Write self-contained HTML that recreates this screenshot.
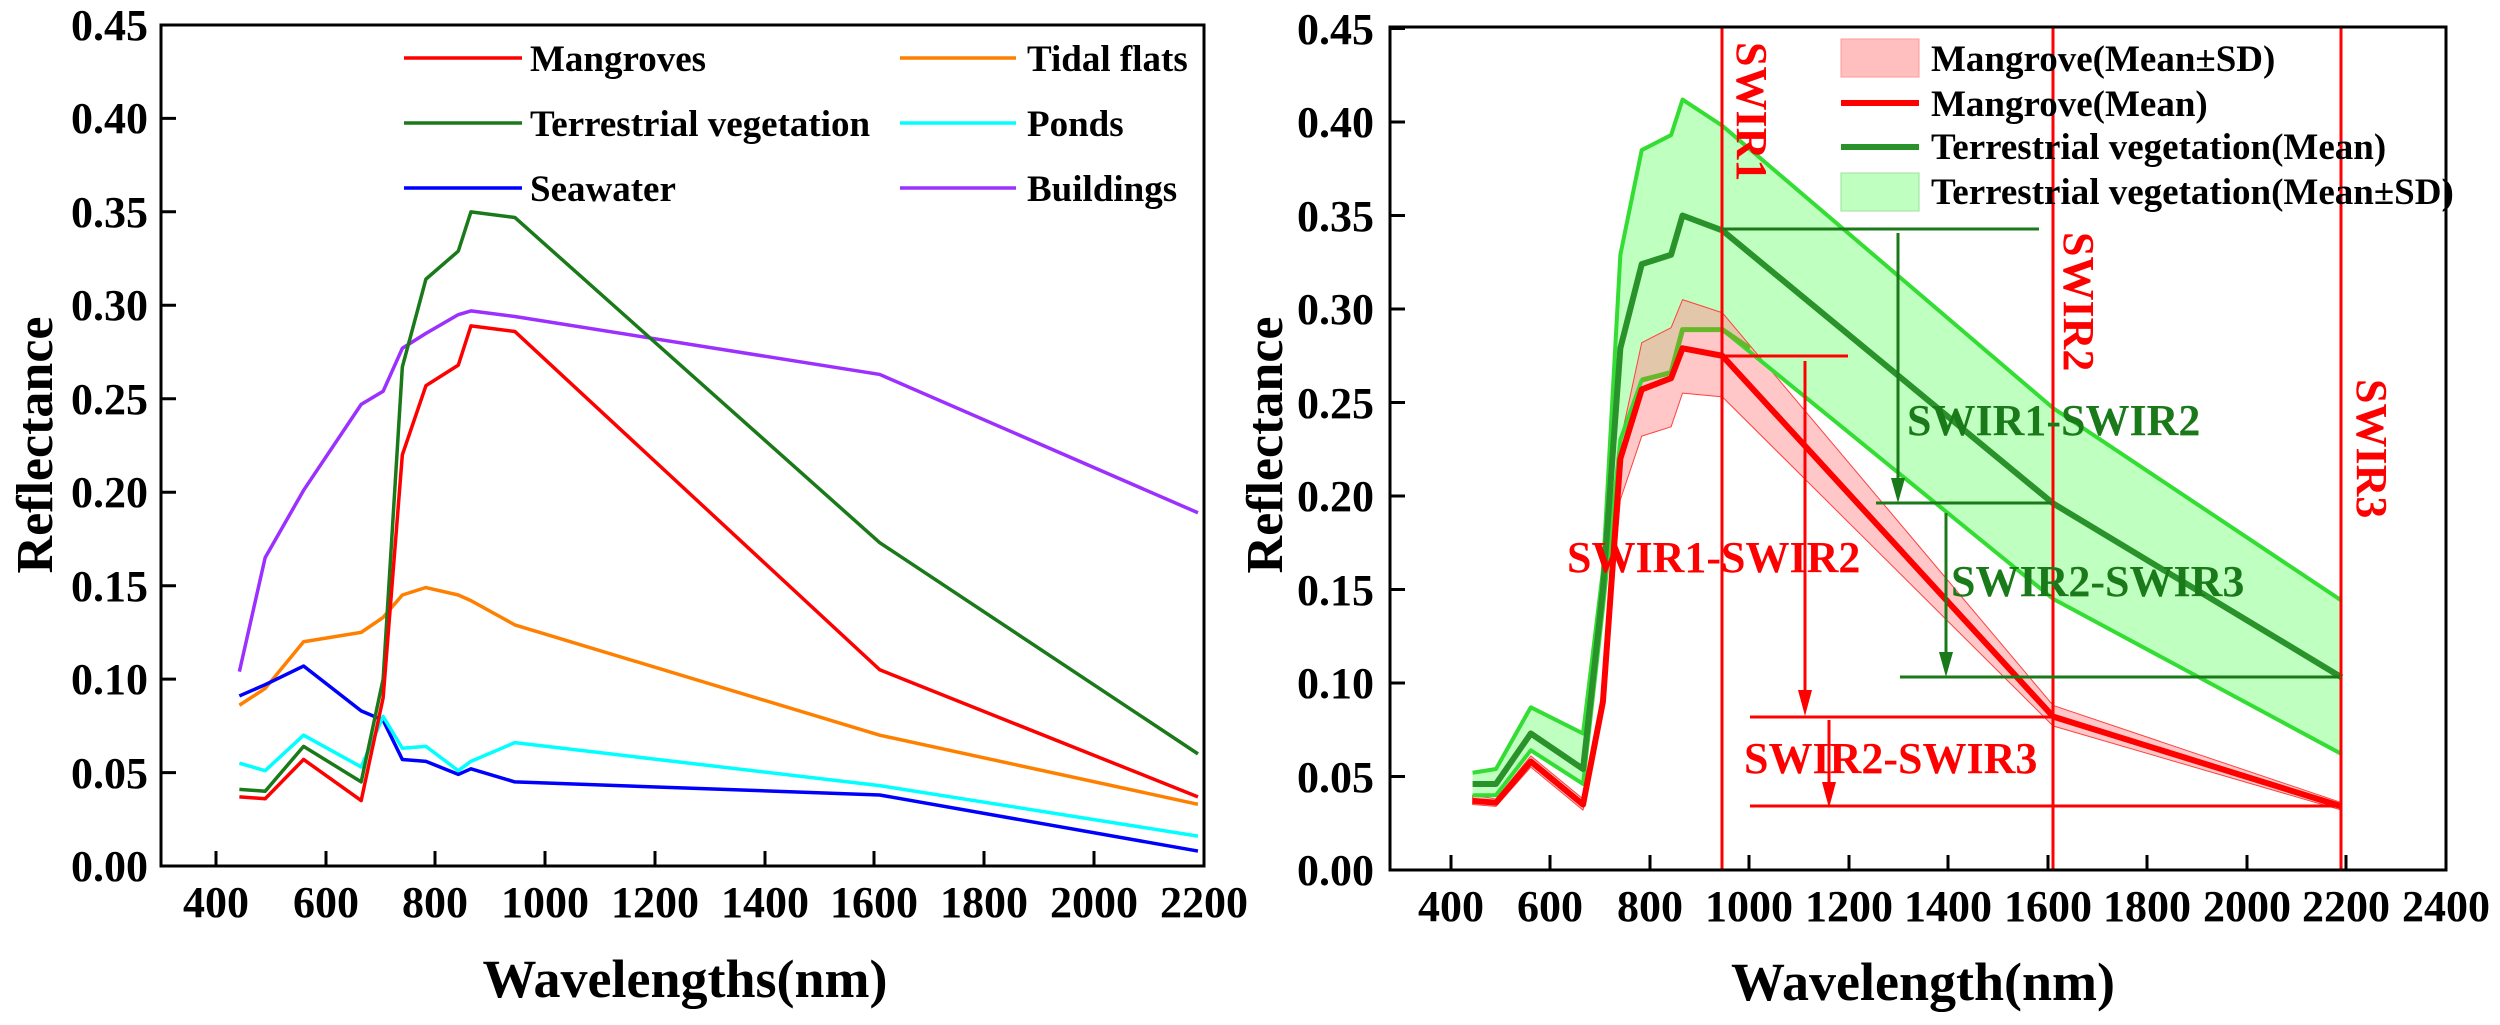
<!DOCTYPE html>
<html><head><meta charset="utf-8"><style>
html,body{margin:0;padding:0;background:#fff;}
svg{display:block;}
svg text{font-family:"Liberation Serif","DejaVu Serif",serif;font-weight:bold;}
</style></head><body>
<svg width="2500" height="1025" viewBox="0 0 2500 1025" xmlns="http://www.w3.org/2000/svg" font-family="'Liberation Serif','DejaVu Serif',serif" font-weight="bold">
<!-- LEFT PANEL -->
<g fill="none" stroke-linejoin="round">
<g transform="translate(-3.7,866) scale(0.5487,-1869)">
<polyline vector-effect="non-scaling-stroke" stroke="#9b30ff" stroke-width="3.5" points="443,0.104 490,0.165 560,0.201 665,0.247 705,0.254 740,0.277 783,0.285 842,0.295 865,0.297 945,0.294 1610,0.263 2190,0.189"/>
<polyline vector-effect="non-scaling-stroke" stroke="#ff8000" stroke-width="3.5" points="443,0.086 490,0.095 560,0.120 665,0.125 705,0.133 740,0.145 783,0.149 842,0.145 865,0.142 945,0.129 1610,0.070 2190,0.033"/>
<polyline vector-effect="non-scaling-stroke" stroke="#0000ff" stroke-width="3.5" points="443,0.091 490,0.097 560,0.107 665,0.083 705,0.078 740,0.057 783,0.056 842,0.049 865,0.052 945,0.045 1610,0.038 2190,0.008"/>
<polyline vector-effect="non-scaling-stroke" stroke="#00ffff" stroke-width="3.5" points="443,0.055 490,0.051 560,0.070 665,0.053 705,0.080 740,0.063 783,0.064 842,0.051 865,0.056 945,0.066 1610,0.043 2190,0.016"/>
<polyline vector-effect="non-scaling-stroke" stroke="#1a7a1a" stroke-width="3.5" points="443,0.041 490,0.040 560,0.064 665,0.045 705,0.100 740,0.267 783,0.314 842,0.329 865,0.350 945,0.347 1610,0.173 2190,0.060"/>
<polyline vector-effect="non-scaling-stroke" stroke="#ff0000" stroke-width="3.5" points="443,0.037 490,0.036 560,0.057 665,0.035 705,0.090 740,0.220 783,0.257 842,0.268 865,0.289 945,0.286 1610,0.105 2190,0.037"/>
</g>
</g>
<g stroke="#000" stroke-width="3" fill="none">
<rect x="161" y="25" width="1043" height="841"/>
<path d="M216,866v-15M326,866v-15M435,866v-15M545,866v-15M655,866v-15M765,866v-15M874,866v-15M984,866v-15M1094,866v-15M1204,866v-15"/>
<path d="M161,866h15M161,772.6h15M161,679.1h15M161,585.7h15M161,492.2h15M161,398.8h15M161,305.3h15M161,211.8h15M161,118.4h15M161,25h15"/>
</g>
<g font-size="44" text-anchor="end">
<text x="148" y="881">0.00</text><text x="148" y="788">0.05</text><text x="148" y="694">0.10</text><text x="148" y="601">0.15</text><text x="148" y="507">0.20</text><text x="148" y="414">0.25</text><text x="148" y="320">0.30</text><text x="148" y="227">0.35</text><text x="148" y="133">0.40</text><text x="148" y="40">0.45</text>
</g>
<g font-size="44" text-anchor="middle">
<text x="216" y="917">400</text><text x="326" y="917">600</text><text x="435" y="917">800</text><text x="545" y="917">1000</text><text x="655" y="917">1200</text><text x="765" y="917">1400</text><text x="874" y="917">1600</text><text x="984" y="917">1800</text><text x="1094" y="917">2000</text><text x="1204" y="917">2200</text>
</g>
<text x="685" y="997" font-size="54" text-anchor="middle">Wavelengths(nm)</text>
<text transform="translate(52,445) rotate(-90)" font-size="52" text-anchor="middle">Reflectance</text>
<!-- left legend -->
<g stroke-width="3.5">
<line x1="404" y1="58" x2="522" y2="58" stroke="#ff0000"/>
<line x1="404" y1="123" x2="522" y2="123" stroke="#1a7a1a"/>
<line x1="404" y1="188" x2="522" y2="188" stroke="#0000ff"/>
<line x1="900" y1="58" x2="1016" y2="58" stroke="#ff8000"/>
<line x1="900" y1="123" x2="1016" y2="123" stroke="#00ffff"/>
<line x1="900" y1="188" x2="1016" y2="188" stroke="#9b30ff"/>
</g>
<g font-size="37">
<text x="530" y="71">Mangroves</text><text x="530" y="136">Terrestrial vegetation</text><text x="530" y="201">Seawater</text>
<text x="1027" y="71">Tidal flats</text><text x="1027" y="136">Ponds</text><text x="1027" y="201">Buildings</text>
</g>

<!-- RIGHT PANEL -->
<g transform="translate(1252.2,870) scale(0.4975,-1870)" stroke-linejoin="round">
<polygon fill="#bfffbf" stroke="none" points="443,0.052 490,0.054 560,0.087 665,0.073 705,0.16 740,0.329 783,0.385 842,0.393 865,0.412 945,0.398 1610,0.247 2190,0.144 2190,0.062 1610,0.145 945,0.289 865,0.289 842,0.266 783,0.262 740,0.23 705,0.14 665,0.046 560,0.064 490,0.040 443,0.040"/>
<polygon fill="#ff9999" fill-opacity="0.55" stroke="#ff4040" stroke-width="1" vector-effect="non-scaling-stroke" points="443,0.040 490,0.038 560,0.061 665,0.038 705,0.095 740,0.229 783,0.282 842,0.290 865,0.305 945,0.298 1610,0.088 2190,0.036 2190,0.032 1610,0.077 945,0.253 865,0.255 842,0.237 783,0.232 740,0.198 705,0.085 665,0.032 560,0.055 490,0.034 443,0.035"/>
<g fill="none">
<polyline vector-effect="non-scaling-stroke" stroke="#33dd33" stroke-width="4" points="443,0.052 490,0.054 560,0.087 665,0.073 705,0.16 740,0.329 783,0.385 842,0.393 865,0.412 945,0.398 1610,0.247 2190,0.144"/>
<polyline vector-effect="non-scaling-stroke" stroke="#33dd33" stroke-width="4" points="443,0.040 490,0.040 560,0.064 665,0.046 705,0.14 740,0.23 783,0.262 842,0.266 865,0.289 945,0.289 1610,0.145 2190,0.062"/>
<polyline vector-effect="non-scaling-stroke" stroke="#66b82a" stroke-width="5" points="783,0.262 842,0.266 865,0.289 945,0.289 1000,0.279"/>
<polyline vector-effect="non-scaling-stroke" stroke="#2a922a" stroke-width="6" points="443,0.046 490,0.046 560,0.073 665,0.054 705,0.15 740,0.279 783,0.324 842,0.329 865,0.350 945,0.342 1610,0.196 2190,0.103"/>
<polyline vector-effect="non-scaling-stroke" stroke="#ff0000" stroke-width="6" points="443,0.037 490,0.036 560,0.058 665,0.035 705,0.09 740,0.22 783,0.257 842,0.263 865,0.279 945,0.275 1610,0.082 2190,0.034"/>
</g>
</g>
<!-- SWIR lines -->
<g stroke="#ff0000" stroke-width="3">
<line x1="1722" y1="27" x2="1722" y2="870"/><line x1="2053" y1="27" x2="2053" y2="870"/><line x1="2341" y1="27" x2="2341" y2="870"/>
<line x1="1722" y1="356" x2="1848" y2="356"/>
<line x1="1750" y1="717" x2="2053" y2="717"/>
<line x1="1750" y1="806" x2="2341" y2="806"/>
<line x1="1805" y1="361" x2="1805" y2="700"/>
<line x1="1829" y1="720" x2="1829" y2="790"/>
</g>
<g fill="#ff0000">
<polygon points="1798,690 1812,690 1805,716"/>
<polygon points="1822,782 1836,782 1829,808"/>
</g>
<g stroke="#1a7a1a" stroke-width="3">
<line x1="1722" y1="229" x2="2039" y2="229"/>
<line x1="1876" y1="503" x2="2053" y2="503"/>
<line x1="1900" y1="677" x2="2341" y2="677"/>
<line x1="1898" y1="233" x2="1898" y2="490"/>
<line x1="1946" y1="513" x2="1946" y2="665"/>
</g>
<g fill="#1a7a1a">
<polygon points="1891,478 1905,478 1898,503"/>
<polygon points="1939,652 1953,652 1946,677"/>
</g>
<g stroke="#000" stroke-width="3" fill="none">
<rect x="1390" y="27" width="1056" height="843"/>
<path d="M1451,870v-15M1550,870v-15M1650,870v-15M1749,870v-15M1849,870v-15M1948,870v-15M2048,870v-15M2147,870v-15M2247,870v-15M2346,870v-15"/>
<path d="M1390,870h15M1390,776.5h15M1390,683h15M1390,589.5h15M1390,496h15M1390,402.5h15M1390,309h15M1390,215.5h15M1390,122h15M1390,28.5h15"/>
</g>
<g font-size="44" text-anchor="end">
<text x="1374" y="885">0.00</text><text x="1374" y="792">0.05</text><text x="1374" y="698">0.10</text><text x="1374" y="605">0.15</text><text x="1374" y="511">0.20</text><text x="1374" y="418">0.25</text><text x="1374" y="324">0.30</text><text x="1374" y="231">0.35</text><text x="1374" y="137">0.40</text><text x="1374" y="44">0.45</text>
</g>
<g font-size="44" text-anchor="middle">
<text x="1451" y="921">400</text><text x="1550" y="921">600</text><text x="1650" y="921">800</text><text x="1749" y="921">1000</text><text x="1849" y="921">1200</text><text x="1948" y="921">1400</text><text x="2048" y="921">1600</text><text x="2147" y="921">1800</text><text x="2247" y="921">2000</text><text x="2346" y="921">2200</text><text x="2446" y="921">2400</text>
</g>
<text x="1923" y="1000" font-size="54" text-anchor="middle">Wavelength(nm)</text>
<text transform="translate(1282,445) rotate(-90)" font-size="52" text-anchor="middle">Reflectance</text>
<g font-size="44" fill="#ff0000">
<text transform="translate(1737,42) rotate(90)">SWIR1</text>
<text transform="translate(2064,232) rotate(90)">SWIR2</text>
<text transform="translate(2357,379) rotate(90)">SWIR3</text>
<text x="1567" y="572">SWIR1-SWIR2</text>
<text x="1744" y="773">SWIR2-SWIR3</text>
</g>
<g font-size="44" fill="#1a7a1a">
<text x="1907" y="435">SWIR1-SWIR2</text>
<text x="1951" y="596">SWIR2-SWIR3</text>
</g>
<!-- right legend -->
<rect x="1841" y="39" width="78" height="38" fill="#ffbfbf" stroke="#ff9999" stroke-width="1"/>
<line x1="1841" y1="103" x2="1919" y2="103" stroke="#ff0000" stroke-width="6"/>
<line x1="1841" y1="147" x2="1919" y2="147" stroke="#2a922a" stroke-width="6"/>
<rect x="1841" y="173" width="78" height="38" fill="#bfffbf" stroke="#99e099" stroke-width="1"/>
<g font-size="37">
<text x="1931" y="71">Mangrove(Mean±SD)</text>
<text x="1931" y="116">Mangrove(Mean)</text>
<text x="1931" y="159">Terrestrial vegetation(Mean)</text>
<text x="1931" y="204">Terrestrial vegetation(Mean±SD)</text>
</g>
</svg>
</body></html>
